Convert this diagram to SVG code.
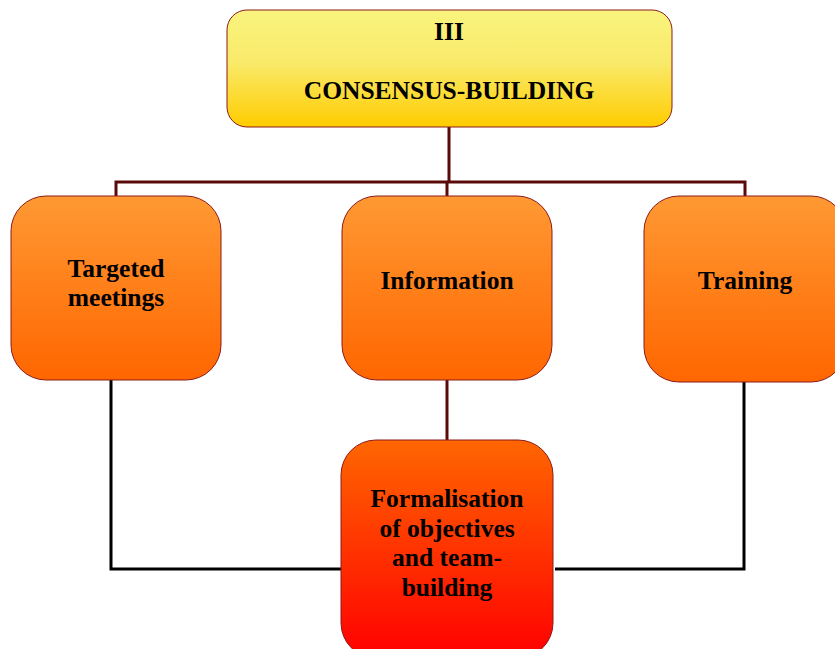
<svg xmlns="http://www.w3.org/2000/svg" width="835" height="649" viewBox="0 0 835 649">
<defs>
<linearGradient id="gTop" x1="0" y1="0" x2="0" y2="1">
<stop offset="0" stop-color="#F9F47E"/>
<stop offset="0.45" stop-color="#F9EA6A"/>
<stop offset="1" stop-color="#FFCC00"/>
</linearGradient>
<linearGradient id="gMid" x1="0" y1="0" x2="0" y2="1">
<stop offset="0" stop-color="#FF9933"/>
<stop offset="1" stop-color="#FF6600"/>
</linearGradient>
<linearGradient id="gBot" x1="0" y1="0" x2="0" y2="1">
<stop offset="0" stop-color="#FF6600"/>
<stop offset="1" stop-color="#FF0000"/>
</linearGradient>
</defs>
<style>
.box{stroke:#8B1A1A;stroke-width:1}
.t{font-family:"Liberation Serif","Times New Roman",serif;font-weight:bold;font-size:25.5px;fill:#000;text-anchor:middle}
.ml{stroke:#5A0A0A;stroke-width:3;fill:none}
.bl{stroke:#000;stroke-width:3;fill:none}
</style>
<rect width="835" height="649" fill="#fff"/>
<g id="connectors">
<path class="ml" d="M449,127 V182 M116,197 V182 H745 V197 M447,182 V197"/>
<path class="ml" d="M447,380 V441"/>
<path class="bl" d="M111,380 V569 H342"/>
<path class="bl" d="M744,382 V569 H555"/>
</g>
<g id="node-top">
<rect class="box" x="227" y="10" width="445" height="117" rx="20" fill="url(#gTop)"/>
<text class="t" x="449" y="40">III</text>
<text class="t" x="449" y="99">CONSENSUS-BUILDING</text>
</g>
<g id="node-targeted">
<rect class="box" x="11" y="196" width="210" height="184" rx="35" fill="url(#gMid)"/>
<text class="t" x="116" y="277">Targeted</text>
<text class="t" x="116" y="306">meetings</text>
</g>
<g id="node-information">
<rect class="box" x="342" y="196" width="210" height="184" rx="35" fill="url(#gMid)"/>
<text class="t" x="447" y="289">Information</text>
</g>
<g id="node-training">
<rect class="box" x="644" y="196" width="202" height="186" rx="35" fill="url(#gMid)"/>
<text class="t" x="745" y="289">Training</text>
</g>
<g id="node-formalisation">
<rect class="box" x="341" y="440" width="212" height="218" rx="35" fill="url(#gBot)"/>
<text class="t" x="447" y="507">Formalisation</text>
<text class="t" x="447" y="537">of objectives</text>
<text class="t" x="447" y="566">and team-</text>
<text class="t" x="447" y="596">building</text>
</g>
</svg>
